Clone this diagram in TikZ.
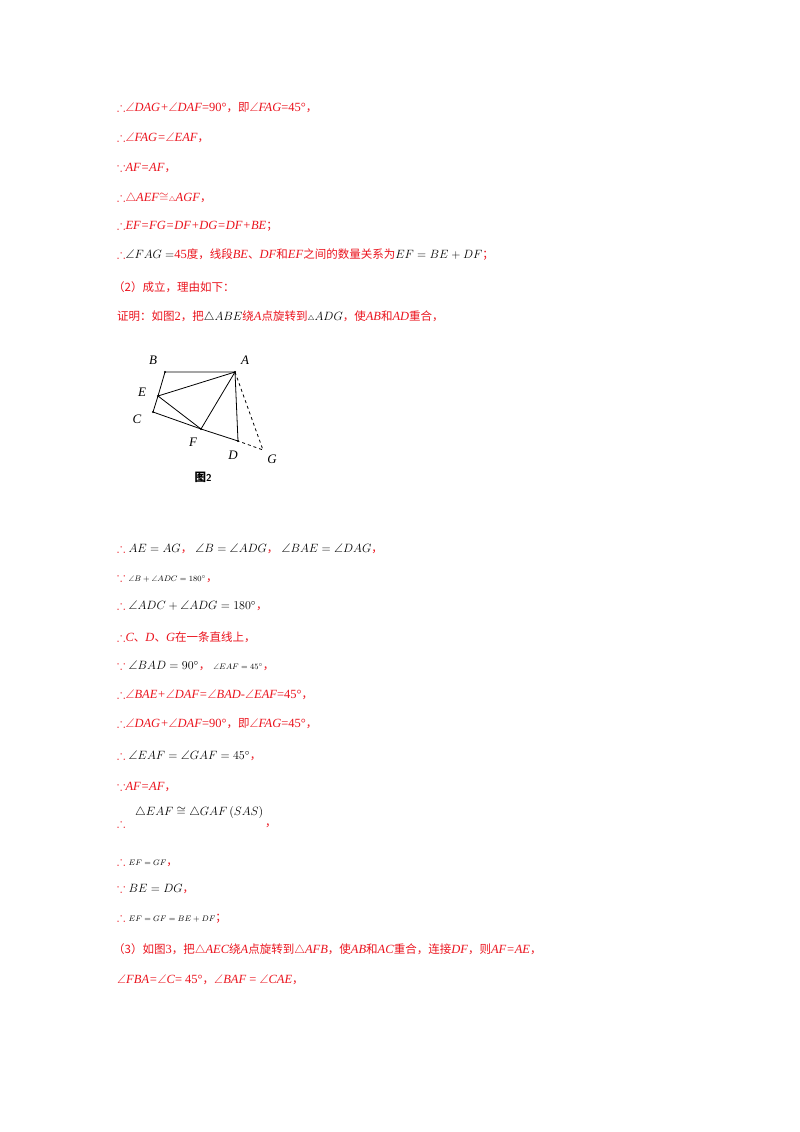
\documentclass[tikz,border=0pt]{standalone}
\usepackage{amsmath,amssymb}
\usepackage{fontspec}
\setmainfont{Liberation Serif}
\newfontfamily\cjk{Noto Sans CJK SC}
\usetikzlibrary{calc}
\definecolor{rd}{RGB}{235,20,30}
\newcommand{\zh}[1]{{\cjk\fontsize{11.5}{14}\selectfont #1}}
\newcommand{\iv}[1]{\textit{#1}}
\newcommand{\ang}{{\upshape$\angle$}}
\newcommand{\tri}{{\upshape$\triangle$}}
\begin{document}
\begin{tikzpicture}[x=1pt,y=-1pt,
  ln/.style={anchor=west,inner sep=0pt,text=rd,font=\fontsize{12.5}{15}\selectfont},
  seg/.style={line width=0.8pt},
  dot/.style={circle,fill=black,inner sep=0pt,minimum size=2.2pt},
  lab/.style={font=\itshape\fontsize{13}{15}\selectfont}]
\useasboundingbox (0,0) rectangle (800,1132);
\fill[white] (0,0) rectangle (800,1132);
\node[ln] (l1) at (117,108) {$\therefore$\iv{\ang DAG+\ang DAF}=90°\zh{，即}\iv{\ang FAG}=45°\zh{，}};
\node[ln] (l2) at (117,138) {$\therefore$\iv{\ang FAG=\ang EAF}\zh{，}};
\node[ln] (l3) at (117,168) {$\because$\iv{AF=AF}\zh{，}};
\node[ln] (l4) at (117,198) {$\therefore$\tri\iv{AEF}$\cong${\scriptsize\tri}\iv{AGF}\zh{，}};
\node[ln] (l5) at (117,226) {$\therefore$\iv{EF=FG=DF+DG=DF+BE}\zh{；}};
\node[ln] (l6) at (117,255) {$\therefore${\color{black}$\angle FAG=$}45\zh{度，线段}\iv{BE}\zh{、}\iv{DF}\zh{和}\iv{EF}\zh{之间的数量关系为}{\color{black}$EF=BE+DF$}\zh{；}};
\node[ln] (l7) at (113,287) {\zh{（2）成立，理由如下：}};
\node[ln] (l8) at (117,317) {\zh{证明：如图}2\zh{，把}{\color{black}$\triangle ABE$}\zh{绕}\iv{A}\zh{点旋转到}{\color{black}{\scriptsize$\triangle$}$ADG$}\zh{，使}\iv{AB}\zh{和}\iv{AD}\zh{重合，}};
% figure
\coordinate (B) at (165,372);
\coordinate (A) at (235,372);
\coordinate (E) at (158,396);
\coordinate (C) at (153,412);
\coordinate (F) at (201,429);
\coordinate (D) at (238,441);
\coordinate (G) at (263,450);
\draw[seg] (C) -- (E) -- (B) -- (A) -- (D) -- (F) -- (C);
\draw[seg] (E) -- (A) -- (F) -- (E);
\draw[seg,dashed] (A) -- (G) -- (D);
\foreach \p in {A,B,C,D,E,F} \node[dot] at (\p) {};
\node[lab] (tB) at (153,360) {B};
\node[lab] (tA) at (245,360) {A};
\node[lab] (tE) at (142,392) {E};
\node[lab] (tC) at (137,419) {C};
\node[lab] (tF) at (193,442) {F};
\node[lab] (tD) at (233,455) {D};
\node[lab] (tG) at (272,459) {G};
\node (cap) at (203,477) {\zh{\textbf{图}}\textsf{\textbf{2}}};
% lower text
\node[ln] (m1) at (117,549) {$\therefore$ {\color{black}$AE=AG$}\zh{，} {\color{black}$\angle B=\angle ADG$}\zh{，} {\color{black}$\angle BAE=\angle DAG$}\zh{，}};
\node[ln] (m2) at (117,578) {$\because$ {\color{black}\footnotesize$\angle B+\angle ADC=180^\circ$}\zh{，}};
\node[ln] (m3) at (117,606) {$\therefore$ {\color{black}$\angle ADC+\angle ADG=180^\circ$}\zh{，}};
\node[ln] (m4) at (117,637) {$\therefore$\iv{C}\zh{、}\iv{D}\zh{、}\iv{G}\zh{在一条直线上，}};
\node[ln] (m5) at (117,666) {$\because$ {\color{black}$\angle BAD=90^\circ$}\zh{，} {\color{black}\footnotesize$\angle EAF=45^\circ$}\zh{，}};
\node[ln] (m6) at (117,695) {$\therefore$\iv{\ang BAE+\ang DAF=\ang BAD-\ang EAF}=45°\zh{，}};
\node[ln] (m7) at (117,724) {$\therefore$\iv{\ang DAG+\ang DAF}=90°\zh{，即}\iv{\ang FAG}=45°\zh{，}};
\node[ln] (m8) at (117,756) {$\therefore$ {\color{black}$\angle EAF=\angle GAF=45^\circ$}\zh{，}};
\node[ln] (m9) at (117,787) {$\because$\iv{AF=AF}\zh{，}};
\node[ln] (m10) at (117,823) {$\therefore$};
\node[ln] (m10b) at (135,812) {\color{black}$\triangle EAF\cong\triangle GAF\,(SAS)$};
\node[ln] (m10c) at (265,826) {\zh{，}};
\node[ln] (m11) at (117,862) {$\therefore$ {\color{black}\footnotesize$EF=GF$}\zh{，}};
\node[ln] (m12) at (117,889) {$\because$ {\color{black}$BE=DG$}\zh{，}};
\node[ln] (m13) at (117,918) {$\therefore$ {\color{black}\footnotesize$EF=GF=BE+DF$}\zh{；}};
\node[ln] (m14) at (113,950) {\zh{（3）如图}3\zh{，把}\tri\iv{AEC}\zh{绕}\iv{A}\zh{点旋转到}\tri\iv{AFB}\zh{，使}\iv{AB}\zh{和}\iv{AC}\zh{重合，连接}\iv{DF}\zh{，则}\iv{AF=AE}\zh{，}};
\node[ln] (m15) at (117,980) {\iv{\ang FBA=\ang C}= 45°\zh{，}\iv{\ang BAF} = \iv{\ang CAE}\zh{，}};
\end{tikzpicture}
\end{document}
